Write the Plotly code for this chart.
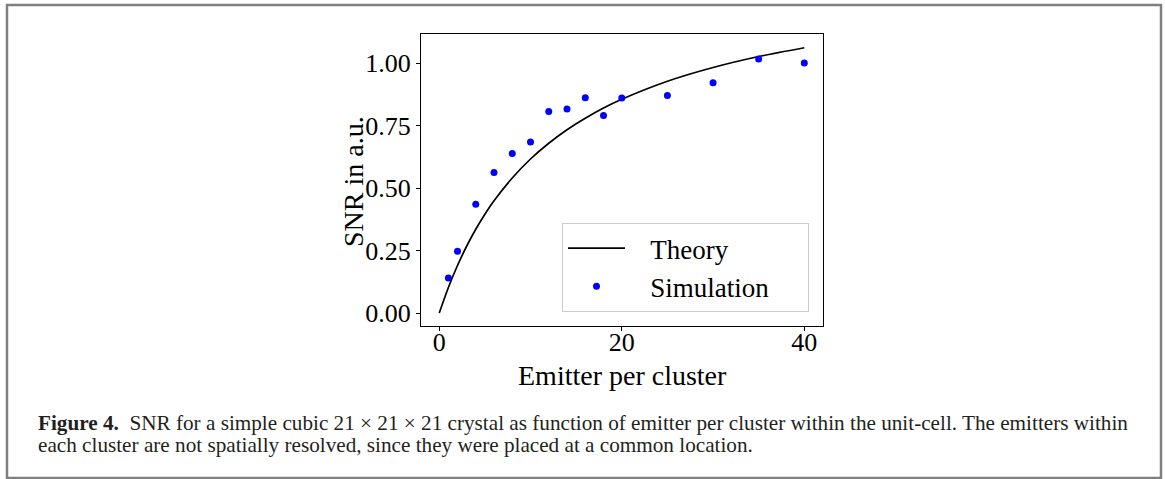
import plotly.graph_objects as go

# Theory curve
theory_x = [0, 1, 2, 3, 4, 5, 6, 8, 10, 12, 14, 16, 18, 20, 25, 30, 35, 40]
theory_y = [0.0, 0.102, 0.190, 0.267, 0.335, 0.395, 0.449, 0.540, 0.616, 0.679,
            0.733, 0.779, 0.820, 0.855, 0.927, 0.982, 1.026, 1.061]

# Simulation points
sim_x = [1, 2, 4, 6, 8, 10, 12, 14, 16, 18, 20, 25, 30, 35, 40]
sim_y = [0.140, 0.247, 0.435, 0.562, 0.638, 0.684, 0.806, 0.816, 0.861, 0.790,
         0.860, 0.870, 0.921, 1.016, 1.000]

x_ticks = [0, 20, 40]
y_ticks = [0.0, 0.25, 0.5, 0.75, 1.0]

caption_line1 = ("<b>Figure 4.</b>  SNR for a simple cubic 21 × 21 × 21 crystal as function of emitter per cluster "
                 "within the unit-cell. The emitters within")
caption_line2 = "each cluster are not spatially resolved, since they were placed at a common location."

W, H = 1165, 479
L, R, T, B = 421, 823, 34, 326  # plot area in pixels

FONT = "Liberation Serif"
NB = "&nbsp;"

fig = go.Figure()
fig.add_trace(go.Scatter(x=theory_x, y=theory_y, mode="lines", name=NB * 3 + "Theory",
                         line=dict(color="black", width=1.7, shape="spline", smoothing=0.6)))
fig.add_trace(go.Scatter(x=sim_x, y=sim_y, mode="markers", name=NB * 3 + "Simulation" + NB * 5,
                         marker=dict(color="#0000ff", size=7)))

def px2x(px):
    return (px - L) / (R - L)

def py2y(py):
    return (B - py) / (B - T)

fig.update_layout(
    width=W, height=H,
    margin=dict(l=L, r=W - R, t=T, b=H - B),
    paper_bgcolor="white", plot_bgcolor="white",
    font=dict(family=FONT, color="black"),
    showlegend=True,
    legend=dict(x=px2x(809), y=py2y(312), xanchor="right", yanchor="bottom",
                bordercolor="#cccccc", borderwidth=1, bgcolor="rgba(255,255,255,0.8)",
                font=dict(size=27, family=FONT), itemwidth=57, tracegroupgap=0),
    xaxis=dict(range=[-2.0, 42.05], tickvals=x_ticks, ticks="outside", ticklen=4,
               tickcolor="black", showline=True, linecolor="black", linewidth=1, mirror=True,
               showgrid=False, zeroline=False, tickfont=dict(size=26, family=FONT),
               ticklabelstandoff=-11),
    yaxis=dict(range=[-0.052, 1.116], tickvals=y_ticks, tickformat=".2f", ticks="outside", ticklen=4,
               tickcolor="black", showline=True, linecolor="black", linewidth=1, mirror=True,
               showgrid=False, zeroline=False, tickfont=dict(size=26, family=FONT)),
    shapes=[dict(type="rect", xref="paper", yref="paper",
                 x0=px2x(7), x1=px2x(1161), y0=py2y(478), y1=py2y(5),
                 line=dict(color="#808080", width=2.5), fillcolor="rgba(0,0,0,0)", layer="below")],
    annotations=[
        dict(text="Emitter per cluster", xref="paper", yref="paper", x=px2x(622), y=py2y(375),
             xanchor="center", yanchor="middle", showarrow=False, font=dict(size=28, family=FONT)),
        dict(text="SNR in a.u.", xref="paper", yref="paper", x=px2x(353), y=py2y(182),
             xanchor="center", yanchor="middle", textangle=-90, showarrow=False,
             font=dict(size=28, family=FONT)),
        dict(text=caption_line1, xref="paper", yref="paper", x=px2x(36), y=py2y(423),
             xanchor="left", yanchor="middle", align="left", showarrow=False,
             font=dict(family=FONT, size=21.2, color="#231f20")),
        dict(text=caption_line2, xref="paper", yref="paper", x=px2x(36), y=py2y(445),
             xanchor="left", yanchor="middle", align="left", showarrow=False,
             font=dict(family=FONT, size=21.2, color="#231f20")),
    ],
)

fig.write_html("out.html")
